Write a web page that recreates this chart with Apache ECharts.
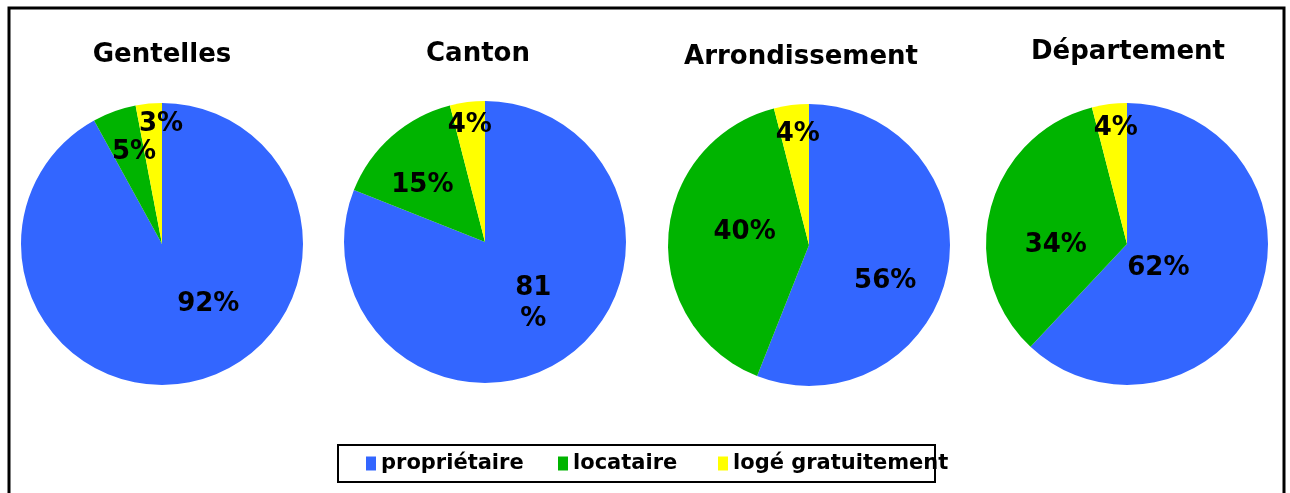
<!DOCTYPE html>
<html>
<head>
<meta charset="utf-8">
<script src="https://cdn.jsdelivr.net/npm/echarts@6/dist/echarts.min.js"></script>
<style>
  html, body { margin: 0; padding: 0; background: #fff; }
  #chart { width: 1290px; height: 493px; }
</style>
</head>
<body>
<div id="chart"></div>
<script>
// categories and values (in %)
const categories = ["propriétaire", "locataire", "logé gratuitement"];
const places = ["Gentelles", "Canton", "Arrondissement", "Département"];
const gentelles = [92, 5, 3];
const canton = [81, 15, 4];
const arrondissement = [56, 40, 4];
const departement = [62, 34, 4];
const values = [gentelles, canton, arrondissement, departement];

const colors = ["#3366FF", "#00B400", "#FFFF00"];
const font = "DejaVu Sans";

// layout of each pie
const centers = [[162, 244], [485, 242], [809, 245], [1127, 244]];
const radius = 141;
const titleX = [162, 478, 801, 1128];
const titleY = [55, 54, 57, 52];
// shift of each label from the middle of its slice
const labelShift = [
  [[28, -11], [-3, -23], [6, -47]],
  [[7, 1], [-14, -2], [-6, -44]],
  [[4, 22], [9, -8], [-2, -38]],
  [[-37, -3], [0, 20], [-2, -43]]
];

const chart = echarts.init(document.getElementById("chart"));

const series = values.map(function (vals, i) {
  return {
    name: places[i],
    type: "pie",
    center: centers[i],
    radius: radius,
    startAngle: 90,
    clockwise: true,
    silent: true,
    label: {
      show: true,
      position: "inside",
      formatter: "{c}%",
      color: "#000",
      fontFamily: font,
      fontWeight: "bold",
      fontSize: 26
    },
    labelLine: { show: false },
    labelLayout: function (params) {
      const s = labelShift[i][params.dataIndex];
      return { dx: s[0], dy: s[1] };
    },
    data: vals.map(function (v, k) {
      const item = { name: categories[k], value: v, itemStyle: { color: colors[k] } };
      // the Canton main label wraps onto two lines
      if (i === 1 && k === 0) {
        item.label = { width: 45, overflow: "breakAll", lineHeight: 31 };
      }
      return item;
    })
  };
});

const legendLeft = [361, 553, 713];
const legends = categories.map(function (c, k) {
  return {
    data: [c],
    left: legendLeft[k],
    top: 448,
    icon: "rect",
    itemWidth: 10,
    itemHeight: 14,
    itemGap: 0,
    selectedMode: false,
    textStyle: { fontFamily: font, fontWeight: "bold", fontSize: 21, color: "#000" }
  };
});

const titles = places.map(function (p, i) {
  return {
    type: "text",
    x: titleX[i],
    y: titleY[i],
    style: {
      text: p,
      fill: "#000",
      font: "bold 26px '" + font + "'",
      textAlign: "center",
      textVerticalAlign: "middle"
    }
  };
});

chart.setOption({
  animation: false,
  legend: legends,
  graphic: [
    {
      type: "rect",
      shape: { x: 9, y: 8, width: 1275, height: 500 },
      style: { fill: null, stroke: "#000", lineWidth: 3 }
    },
    {
      type: "rect",
      shape: { x: 338, y: 445, width: 597, height: 37 },
      style: { fill: null, stroke: "#000", lineWidth: 2 }
    }
  ].concat(titles),
  series: series
});
</script>
</body>
</html>
